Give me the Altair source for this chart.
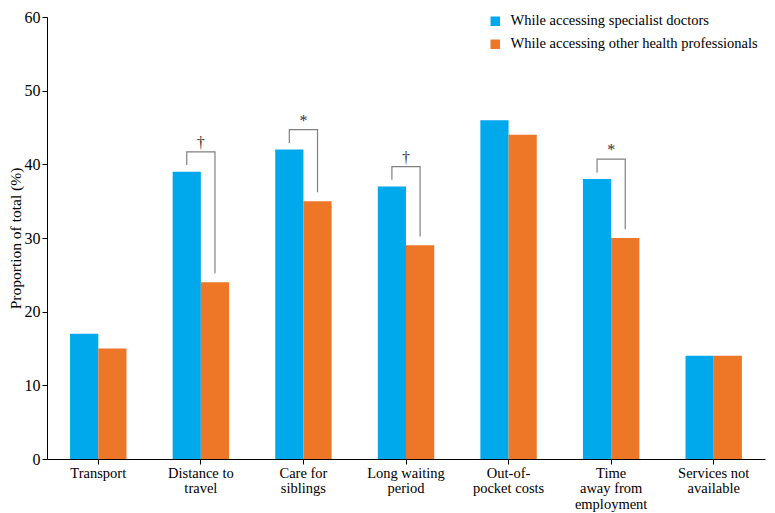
import altair as alt
import pandas as pd

categories = ["Transport", "Distance to|travel", "Care for|siblings", "Long waiting|period",
              "Out-of-|pocket costs", "Time|away from|employment", "Services not|available"]
series = ["While accessing specialist doctors", "While accessing other health professionals"]
specialist = [17, 39, 42, 37, 46, 38, 14]
other = [15, 24, 35, 29, 44, 30, 14]
significance = ["", "†", "*", "†", "", "*", ""]
colors = ["#00A9EC", "#EE7627"]

FONT = "Liberation Serif"

rows = []
for c, a, b in zip(categories, specialist, other):
    rows.append({"category": c, "series": series[0], "value": a})
    rows.append({"category": c, "series": series[1], "value": b})
df = pd.DataFrame(rows)

br = []
sym = []
for c, a, b, s in zip(categories, specialist, other, significance):
    if not s:
        continue
    top = max(a, b) + 2.7
    br += [
        {"category": c, "series": series[0], "y": a + 0.9, "o": 0},
        {"category": c, "series": series[0], "y": top, "o": 1},
        {"category": c, "series": series[1], "y": top, "o": 2},
        {"category": c, "series": series[1], "y": b + 1.2, "o": 3},
    ]
    sym.append({"category": c, "y": top, "s": s})
bdf = pd.DataFrame(br)
sdf = pd.DataFrame(sym)

xenc = alt.X("category:N", sort=categories, title=None,
             scale=alt.Scale(paddingInner=0.45, paddingOuter=0.225),
             axis=alt.Axis(labelAngle=0, labelExpr="split(datum.label, '|')",
                           labelFont=FONT, labelFontSize=14.5, labelColor="#000",
                           labelPadding=2, labelLineHeight=15.5,
                           tickColor="#000", tickSize=5, domainColor="#000"))
yscale = alt.Scale(domain=[0, 60])

bars = alt.Chart(df).mark_bar().encode(
    x=xenc,
    xOffset=alt.XOffset("series:N", sort=series),
    y=alt.Y("value:Q", scale=yscale, title="Proportion of total (%)",
            axis=alt.Axis(values=[0, 10, 20, 30, 40, 50, 60], grid=False,
                          labelFont=FONT, labelFontSize=16, labelColor="#000",
                          labelPadding=2,
                          titleFont=FONT, titleFontSize=15.5, titleFontWeight="normal",
                          titleColor="#000", titlePadding=1,
                          tickColor="#000", tickSize=5, domainColor="#000")),
    color=alt.Color("series:N", sort=series, scale=alt.Scale(domain=series, range=colors),
                    legend=alt.Legend(title=None, orient="none", legendX=441, legendY=-3,
                                      symbolType="square", symbolSize=90,
                                      symbolStrokeWidth=0, labelFont=FONT,
                                      labelFontSize=14.5, labelColor="#000",
                                      labelOffset=8, rowPadding=8, labelLimit=400)),
)

brackets = alt.Chart(bdf).mark_line(color="#808080", strokeWidth=1.2).encode(
    x=alt.X("category:N", sort=categories),
    xOffset=alt.XOffset("series:N", sort=series),
    y=alt.Y("y:Q", scale=yscale),
    detail="category:N",
    order="o:Q",
)

symbols = alt.Chart(sdf).mark_text(font=FONT, fontSize=16, color="#333", dy=-9).encode(
    x=alt.X("category:N", sort=categories),
    y=alt.Y("y:Q", scale=yscale),
    text="s:N",
)

chart = alt.layer(bars, brackets, symbols).properties(
    width=718, height=442,
    autosize=alt.AutoSizeParams(type="none"),
    padding={"left": 39, "top": 9, "right": 2, "bottom": 54},
).configure_view(stroke=None)

chart.save("out.html", embed_options={"renderer": "svg", "actions": False})
